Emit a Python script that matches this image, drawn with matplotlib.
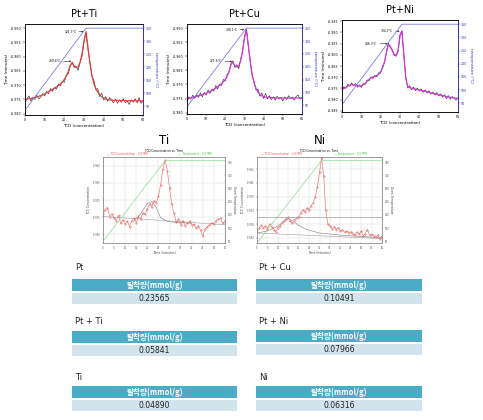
import matplotlib
matplotlib.use('Agg')
import matplotlib.pyplot as plt
from matplotlib.patches import Rectangle

W, H = 483, 420

# ---- top row: TCD vs temperature (x = TCD index 0..60)
tcd_x = list(range(61))
temp_x = [0, 31, 60]

pt_ti_raw = [-0.9762, -0.9748, -0.9738, -0.9756, -0.9745, -0.9750, -0.9736, -0.9748, -0.9742, -0.9730,
             -0.9738, -0.9722, -0.9730, -0.9712, -0.9722, -0.9708, -0.9714, -0.9696, -0.9702, -0.9688,
             -0.9690, -0.9665, -0.9660, -0.9632, -0.9620, -0.9638, -0.9634, -0.9648, -0.9620, -0.9598,
             -0.9548, -0.9515, -0.9574, -0.9618, -0.9668, -0.9682, -0.9716, -0.9712, -0.9740, -0.9728,
             -0.9752, -0.9740, -0.9756, -0.9744, -0.9752, -0.9762, -0.9750, -0.9764, -0.9752, -0.9760,
             -0.9748, -0.9762, -0.9756, -0.9768, -0.9752, -0.9760, -0.9748, -0.9762, -0.9744, -0.9764,
             -0.9754]
pt_ti_fit = [-0.9752, -0.9750, -0.9748, -0.9747, -0.9745, -0.9743, -0.9741, -0.9739, -0.9737, -0.9734,
             -0.9731, -0.9727, -0.9723, -0.9719, -0.9715, -0.9711, -0.9706, -0.9701, -0.9696, -0.9689,
             -0.9680, -0.9668, -0.9652, -0.9630, -0.9620, -0.9632, -0.9638, -0.9636, -0.9620, -0.9590,
             -0.9545, -0.9512, -0.9565, -0.9622, -0.9664, -0.9694, -0.9712, -0.9724, -0.9734, -0.9741,
             -0.9746, -0.9749, -0.9751, -0.9752, -0.9752, -0.9753, -0.9753, -0.9753, -0.9754, -0.9754,
             -0.9754, -0.9754, -0.9755, -0.9755, -0.9755, -0.9755, -0.9755, -0.9755, -0.9755, -0.9756,
             -0.9756]
pt_ti_temp = [35, 350, 350]
pt_ti_labels = ['321.7°C', '239.4°C']

pt_cu_raw = [-0.9760, -0.9744, -0.9752, -0.9738, -0.9750, -0.9736, -0.9746, -0.9730, -0.9744, -0.9728,
             -0.9738, -0.9720, -0.9732, -0.9716, -0.9724, -0.9704, -0.9716, -0.9698, -0.9704, -0.9682,
             -0.9688, -0.9664, -0.9656, -0.9624, -0.9616, -0.9640, -0.9630, -0.9644, -0.9610, -0.9584,
             -0.9530, -0.9502, -0.9566, -0.9614, -0.9670, -0.9690, -0.9720, -0.9716, -0.9742, -0.9730,
             -0.9750, -0.9732, -0.9752, -0.9740, -0.9754, -0.9744, -0.9756, -0.9742, -0.9752, -0.9746,
             -0.9758, -0.9744, -0.9754, -0.9740, -0.9750, -0.9746, -0.9756, -0.9742, -0.9738, -0.9752,
             -0.9746]
pt_cu_fit = [-0.9752, -0.9750, -0.9748, -0.9746, -0.9744, -0.9742, -0.9740, -0.9738, -0.9736, -0.9734,
             -0.9731, -0.9728, -0.9725, -0.9721, -0.9717, -0.9713, -0.9708, -0.9703, -0.9697, -0.9690,
             -0.9682, -0.9670, -0.9652, -0.9628, -0.9622, -0.9634, -0.9638, -0.9634, -0.9615, -0.9580,
             -0.9535, -0.9505, -0.9560, -0.9620, -0.9665, -0.9695, -0.9714, -0.9727, -0.9735, -0.9740,
             -0.9743, -0.9745, -0.9746, -0.9747, -0.9747, -0.9747, -0.9747, -0.9748, -0.9748, -0.9748,
             -0.9748, -0.9748, -0.9748, -0.9748, -0.9748, -0.9748, -0.9748, -0.9748, -0.9748, -0.9748,
             -0.9748]
pt_cu_temp = [45, 350, 350]
pt_cu_labels = ['308.1°C', '271.6°C']

pt_ni_raw = [-0.9762, -0.9742, -0.9750, -0.9730, -0.9740, -0.9726, -0.9738, -0.9728, -0.9744, -0.9734,
             -0.9746, -0.9728, -0.9732, -0.9712, -0.9716, -0.9698, -0.9706, -0.9692, -0.9698, -0.9680,
             -0.9682, -0.9650, -0.9636, -0.9584, -0.9548, -0.9570, -0.9576, -0.9604, -0.9600, -0.9586,
             -0.9510, -0.9492, -0.9606, -0.9700, -0.9748, -0.9738, -0.9756, -0.9744, -0.9760, -0.9748,
             -0.9762, -0.9752, -0.9768, -0.9756, -0.9770, -0.9760, -0.9776, -0.9766, -0.9780, -0.9768,
             -0.9784, -0.9774, -0.9788, -0.9778, -0.9796, -0.9782, -0.9798, -0.9786, -0.9794, -0.9802,
             -0.9792]
pt_ni_fit = [-0.9755, -0.9750, -0.9745, -0.9740, -0.9736, -0.9734, -0.9734, -0.9736, -0.9738, -0.9739,
             -0.9738, -0.9734, -0.9727, -0.9718, -0.9710, -0.9703, -0.9699, -0.9697, -0.9693, -0.9686,
             -0.9675, -0.9658, -0.9630, -0.9590, -0.9555, -0.9562, -0.9582, -0.9598, -0.9606, -0.9580,
             -0.9515, -0.9495, -0.9600, -0.9705, -0.9742, -0.9746, -0.9749, -0.9751, -0.9753, -0.9755,
             -0.9757, -0.9759, -0.9761, -0.9763, -0.9765, -0.9768, -0.9770, -0.9772, -0.9774, -0.9776,
             -0.9778, -0.9780, -0.9782, -0.9784, -0.9786, -0.9788, -0.9790, -0.9791, -0.9792, -0.9793,
             -0.9794]
pt_ni_temp = [45, 350, 350]
pt_ni_labels = ['304.7°C', '286.3°C']

# ---- middle row: instrument exports (x = minutes)
ti_x = list(range(56))
ti_tcd = [-0.9740, -0.9728, -0.9722, -0.9748, -0.9742, -0.9752, -0.9760, -0.9745, -0.9768, -0.9758,
          -0.9770, -0.9762, -0.9778, -0.9760, -0.9752, -0.9766, -0.9748, -0.9755, -0.9738, -0.9742,
          -0.9725, -0.9712, -0.9720, -0.9702, -0.9708, -0.9688, -0.9655, -0.9610, -0.9585, -0.9615,
          -0.9665, -0.9712, -0.9738, -0.9765, -0.9755, -0.9772, -0.9760, -0.9775, -0.9768, -0.9762,
          -0.9774, -0.9770, -0.9782, -0.9776, -0.9788, -0.9806, -0.9784, -0.9778, -0.9772, -0.9766,
          -0.9770, -0.9760, -0.9756, -0.9752, -0.9768, -0.9760]
ti_temp_x = [0, 28, 55]
ti_temp = [50, 355, 355]
ti_base_x = [0, 55]
ti_base = [-0.9748, -0.9772]
ti_fit_x = [14, 17, 20, 22, 24, 26, 29, 33, 40]
ti_fit = [-0.9760, -0.9740, -0.9710, -0.9705, -0.9722, -0.9752, -0.9762, -0.9765, -0.9768]

ni_x = list(range(61))
ni_tcd = [-0.9796, -0.9792, -0.9784, -0.9790, -0.9786, -0.9794, -0.9780, -0.9788, -0.9798, -0.9802,
          -0.9790, -0.9786, -0.9776, -0.9770, -0.9764, -0.9760, -0.9772, -0.9778, -0.9768, -0.9762,
          -0.9758, -0.9748, -0.9738, -0.9744, -0.9734, -0.9740, -0.9726, -0.9718, -0.9700, -0.9672,
          -0.9630, -0.9588, -0.9640, -0.9740, -0.9780, -0.9786, -0.9794, -0.9788, -0.9796, -0.9790,
          -0.9800, -0.9796, -0.9804, -0.9800, -0.9806, -0.9802, -0.9808, -0.9812, -0.9804, -0.9810,
          -0.9800, -0.9814, -0.9808, -0.9796, -0.9812, -0.9810, -0.9814, -0.9818, -0.9812, -0.9822,
          -0.9816]
ni_temp_x = [0, 31, 60]
ni_temp = [44, 355, 355]
ni_base_x = [0, 60]
ni_base = [-0.9806, -0.9822]
ni_fit_x = [0, 5, 10, 13, 15, 17, 20, 24, 30, 40, 60]
ni_fit = [-0.9806, -0.9800, -0.9786, -0.9772, -0.9764, -0.9770, -0.9784, -0.9796, -0.9806, -0.9812, -0.9820]
ni_level = -0.9758

# ---- bottom: desorption amounts
table_names = ['Pt', 'Pt + Cu', 'Pt + Ti', 'Pt + Ni', 'Ti', 'Ni']
table_values = ['0.23565', '0.10491', '0.05841', '0.07966', '0.04890', '0.06316']
table_header = '탈착량(mmol/g)'

KR = ['Noto Sans CJK KR', 'DejaVu Sans']


def px_box(left, top, right, bottom):
    return [left / W, 1 - bottom / H, (right - left) / W, (bottom - top) / H]


def top_panel(fig, box, title, raw, fit, fit_color, temp, labels, ylim, yticks):
    ax = fig.add_axes(px_box(*box))
    ax.plot(tcd_x, raw, color='#2a2a2a', lw=0.45)
    ax.plot(tcd_x, fit, color=fit_color, lw=0.9)
    ax.set_xlim(0, 60)
    ax.set_ylim(*ylim)
    ax.set_xticks(range(0, 61, 10))
    ax.set_yticks(yticks)
    ax.set_yticklabels(['%.3f' % v for v in yticks])
    ax.tick_params(labelsize=2.3, length=1.2, width=0.3, pad=1)
    ax.set_xlabel('TCD (concentration)', fontsize=3, labelpad=1.5)
    ax.set_ylabel('Time (minutes)', fontsize=3, labelpad=1.5)
    ax.set_title(title, fontsize=7, pad=5)
    for s in ax.spines.values():
        s.set_linewidth(0.5)

    # annotate the main peak and the shoulder
    peak_i = fit.index(max(fit[28:34]))
    sh_i = fit.index(max(fit[22:27]))
    arrow = dict(arrowstyle='->', lw=0.35, color='black', shrinkA=0, shrinkB=0)
    ax.annotate(labels[0], xy=(peak_i - 1.2, fit[peak_i]), xytext=(peak_i - 11, fit[peak_i]),
                fontsize=2.2, va='center', arrowprops=arrow)
    ax.annotate(labels[1], xy=(sh_i - 0.5, fit[sh_i] + 0.0004), xytext=(sh_i - 12, fit[sh_i] + 0.0004),
                fontsize=2.2, va='center', arrowprops=arrow)

    ax2 = ax.twinx()
    ax2.plot(temp_x, temp, color='#7b7bea', lw=0.6)
    ax2.set_ylim(17, 366)
    ax2.set_yticks(range(50, 351, 50))
    ax2.tick_params(labelsize=2.3, length=1.2, width=0.3, pad=1, colors='#3030d0')
    ax2.set_ylabel('temperature (°C)', fontsize=3, color='#3030d0', rotation=270, labelpad=4)
    for s in ax2.spines.values():
        s.set_linewidth(0.5)
    ax2.spines['right'].set_color('#3030d0')
    return ax


def mid_panel(fig, box, title, x, tcd, temp_x_, temp, base_x, base, fit_x, fit, ylim, yticks, xmax):
    ax = fig.add_axes(px_box(*box))
    ax.grid(True, color='#dddddd', lw=0.35)
    ax.set_axisbelow(True)
    ax.plot(base_x, base, color='#9a9a9a', lw=0.4)
    ax.plot(fit_x, fit, color='#8a8a8a', lw=0.45)
    ax.plot(x, tcd, color='#e8706a', lw=0.45, marker='.', ms=0.8)
    ax.set_xlim(0, xmax)
    ax.set_ylim(*ylim)
    ax.set_xticks(range(0, xmax + 1, 5))
    ax.set_yticks(yticks)
    ax.set_yticklabels(['%.3f' % v for v in yticks])
    ax.tick_params(labelsize=1.8, length=1, width=0.3, pad=0.8, colors='#555555')
    ax.set_xlabel('Time (minutes)', fontsize=2.2, labelpad=0.8, color='#444444')
    ax.set_ylabel('TCD Concentration', fontsize=2.2, labelpad=1.2, color='#444444')
    for s in ax.spines.values():
        s.set_linewidth(0.4)
        s.set_color('#888888')
    ax.text(0.5, 1.05, 'TCD Concentration vs. Time', transform=ax.transAxes,
            fontsize=2.0, ha='center', va='bottom')
    ax.text(0.03, 1.008, '— TCD Concentration - 2:07PM', transform=ax.transAxes,
            fontsize=1.9, color='#e05050', va='bottom')
    ax.text(0.62, 1.008, '— Temperature - 2:07PM', transform=ax.transAxes,
            fontsize=1.9, color='#40c040', va='bottom')

    ax2 = ax.twinx()
    ax2.plot(temp_x_, temp, color='#90d890', lw=0.5)
    ax2.set_ylim(44, 369)
    ax2.set_yticks(range(50, 351, 50))
    ax2.tick_params(labelsize=1.8, length=1, width=0.3, pad=0.8, colors='#555555')
    ax2.set_ylabel('Oven Temperature', fontsize=2.2, rotation=270, labelpad=3, color='#444444')
    for s in ax2.spines.values():
        s.set_linewidth(0.4)
        s.set_color('#888888')
    cx = (box[0] + box[2]) / 2
    fig.text(cx / W, 1 - 141 / H, title, fontsize=8.5, ha='center', va='center')
    return ax


fig = plt.figure(figsize=(W / 100, H / 100), dpi=100)
fig.patch.set_facecolor('white')

top_ticks = [-0.980, -0.975, -0.970, -0.965, -0.960, -0.955, -0.950]
top_panel(fig, (25, 24, 143, 115), 'Pt+Ti', pt_ti_raw, pt_ti_fit, '#e0403a', pt_ti_temp,
          pt_ti_labels, (-0.9805, -0.9485), top_ticks)
top_panel(fig, (187, 24, 302, 114), 'Pt+Cu', pt_cu_raw, pt_cu_fit, '#d535d5', pt_cu_temp,
          pt_cu_labels, (-0.9805, -0.9485), top_ticks)
top_panel(fig, (342, 20, 458, 112), 'Pt+Ni', pt_ni_raw, pt_ni_fit, '#d535d5', pt_ni_temp,
          pt_ni_labels, (-0.9855, -0.9445), [-0.985, -0.980, -0.975, -0.970, -0.965, -0.960, -0.955, -0.950, -0.945])

mid_panel(fig, (103, 157, 225, 243), 'Ti', ti_x, ti_tcd, ti_temp_x, ti_temp, ti_base_x, ti_base,
          ti_fit_x, ti_fit, (-0.9825, -0.9575), [-0.980, -0.975, -0.970, -0.965, -0.960], 55)
ax_ni = mid_panel(fig, (257, 157, 382, 243), 'Ni', ni_x, ni_tcd, ni_temp_x, ni_temp, ni_base_x, ni_base,
                  ni_fit_x, ni_fit, (-0.9835, -0.9585), [-0.982, -0.978, -0.974, -0.970, -0.966, -0.962], 60)
ax_ni.axhline(ni_level, color='#999999', lw=0.5)

# ---- tables drawn in pixel space
bg = fig.add_axes([0, 0, 1, 1], zorder=-1)
bg.set_xlim(0, W)
bg.set_ylim(H, 0)
bg.axis('off')

col_x = [(72, 237), (256, 422)]
row_y = [267, 322, 378]
header_top = [[279, 279], [331, 330], [386, 386]]
for i, (name, value) in enumerate(zip(table_names, table_values)):
    r, c = divmod(i, 2)
    x0, x1 = col_x[c]
    ht = header_top[r][c]
    bg.text(x0 + 3, row_y[r], name, fontsize=6, va='center', ha='left', color='#222222')
    bg.add_patch(Rectangle((x0, ht), x1 - x0, 12, facecolor='#4bacc6', edgecolor='none'))
    bg.add_patch(Rectangle((x0, ht + 13.5), x1 - x0, 11.5, facecolor='#d2e3eb', edgecolor='none'))
    bg.text((x0 + x1) / 2, ht + 6, table_header, fontsize=5.5, family=KR, color='white',
            fontweight='bold', ha='center', va='center')
    bg.text((x0 + x1) / 2, ht + 19.5, value, fontsize=5.5, color='#222222', ha='center', va='center')

fig.savefig('out.png', dpi=100)
